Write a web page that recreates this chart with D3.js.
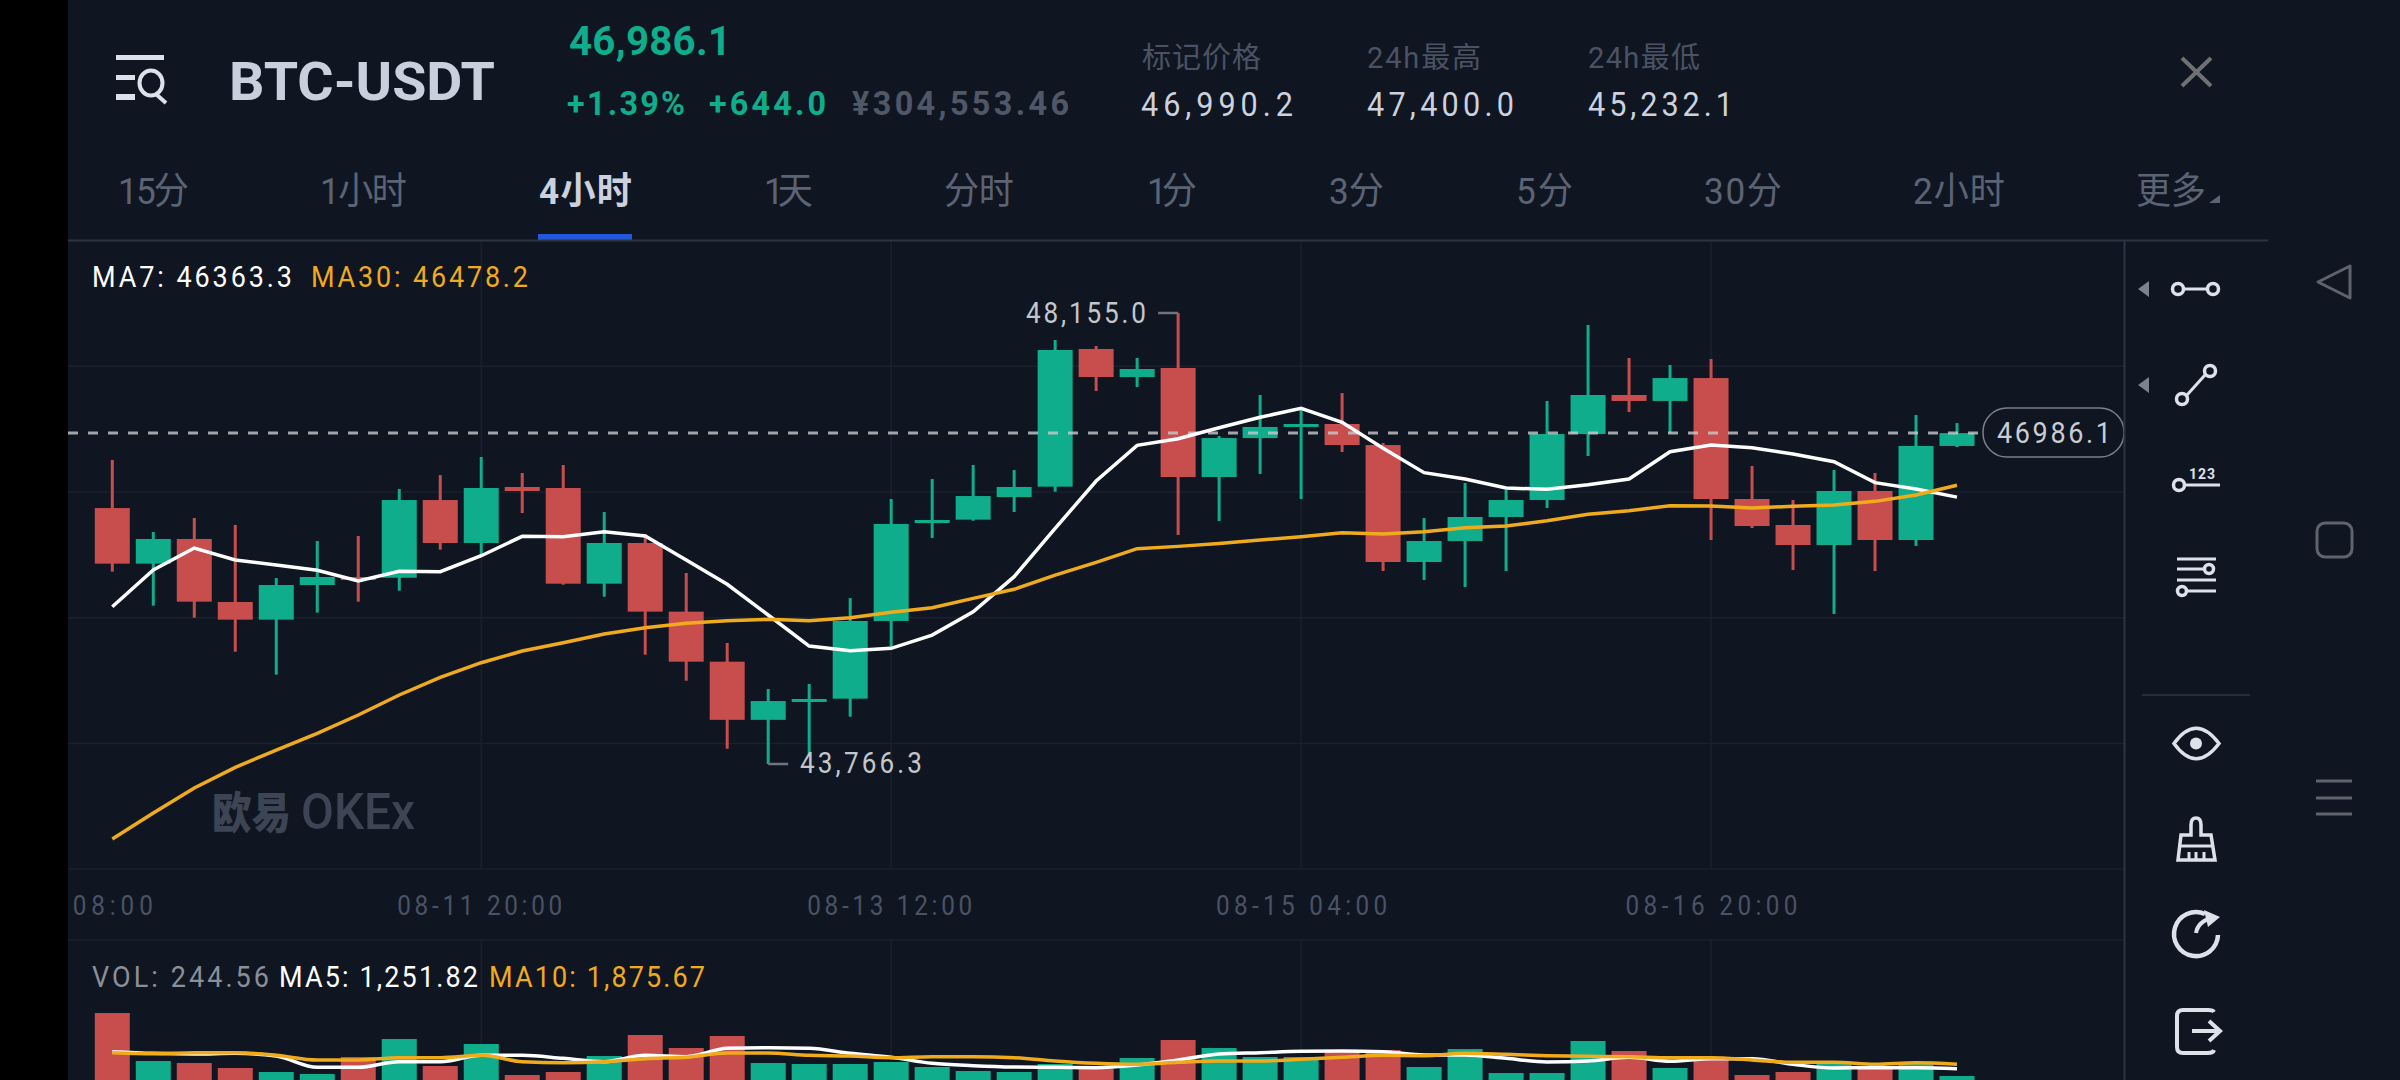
<!DOCTYPE html>
<html><head><meta charset="utf-8">
<style>html,body{margin:0;padding:0;background:#000;overflow:hidden}svg{display:block}</style>
<script src="https://cdnjs.cloudflare.com/ajax/libs/d3/7.8.5/d3.min.js"></script>
</head><body><svg id="c" width="2400" height="1080"></svg>
<script>
// ---- data ----
const opens  = [46257,45716,45956,45343,45171,45508,45586,45579,46335,45917,46462,46452,45521,45917,45249,44762,44196,44379,44402,45158,46111,46144,46364,46465,47805,47532,47620,46559,46938,47046,47075,46870,45732,45936,46170,46335,46977,47357,47299,47522,46345,46092,45897,46423,45946,46861];
const highs  = [46725,46024,46160,46092,45576,45936,45985,46442,46578,46754,46598,46676,46218,46004,45625,44944,44496,44545,45381,46345,46539,46676,46627,47892,47834,47717,48155,46958,47357,47227,47376,46890,46160,46501,46432,47299,48038,47717,47649,47707,46666,46335,46627,46598,47162,47084];
const lows   = [45638,45307,45190,44859,44636,45239,45346,45453,45852,45800,46209,45511,45395,44830,44577,43915,43766.3,43863,44227,44908,45965,46134,46218,46416,47396,47435,45995,46131,46588,46345,46802,45644,45557,45489,45644,46257,46763,47191,46990,45946,46063,45654,45226,45644,45888,46851];
const closes = [45716,45956,45346,45171,45508,45586,45576,46335,45917,46452,46423,45521,45917,45249,44762,44196,44379,44399,45158,46102,46141,46374,46462,47795,47532,47610,46559,46938,47046,47075,46870,45732,45936,46170,46335,46977,47357,47299,47522,46345,46082,45897,46423,45946,46861,46986.1];
const ma7    = [45297,45654,45868,45751,45703,45651,45547,45641,45638,45793,45982,45978,46027,45985,45751,45515,45216,44914,44869,44892,45021,45248,45589,46059,46520,46867,46932,47039,47140,47227,47091,46838,46601,46539,46452,46439,46484,46539,46805,46870,46844,46783,46708,46504,46442,46363.3];
const ma30   = [43037,43290,43533,43734,43902,44065,44243,44438,44610,44752,44866,44947,45031,45093,45135,45161,45174,45161,45190,45242,45287,45378,45466,45605,45729,45862,45884,45913,45946,45978,46017,46004,46027,46066,46082,46134,46196,46231,46280,46277,46257,46274,46286,46322,46384,46478.2];
const volumes= [8901,2306,2031,1344,795,520,2856,5329,1619,4642,382,795,2993,5878,4092,5741,2031,1894,1894,2169,1482,932,795,1894,1207,2718,5191,4092,2856,2856,3543,3817,1482,3955,657,657,5054,3680,1344,2443,382,795,1894,1619,1894,244.56];
const volMa5 = [3588,3359,3268,3359,2993,1436,1436,2214,2214,3085,3085,2672,2214,3085,2901,4046,4138,4046,3359,2810,1985,1665,1482,1436,1390,1756,2443,3268,3451,3634,3680,3588,3130,3130,2672,2169,2306,2810,2260,2627,2627,1848,1344,1390,1390,1251.82];
const volMa10= [3451,3314,3451,3451,3085,2443,2443,2764,2764,3085,2214,2077,2214,2627,2810,3405,3405,3085,2993,2764,2901,2901,2764,2306,1985,1848,2123,2306,2306,2535,2810,3085,3039,3359,3222,3039,2947,2901,2764,2764,2443,2123,2123,1848,2077,1875.67];
const timeIndex  = [0,9,19,29,39];
const timeLabels = ["08:00","08-11 20:00","08-13 12:00","08-15 04:00","08-16 20:00"];
const gridPrices = [47636,46413,45190,43967,42745];
const maxPrice = 48155.0, minPrice = 43766.3, lastPrice = 46986.1;
const tabLabels = ["15分","1小时","4小时","1天","分时","1分","3分","5分","30分","2小时","更多"];
const activeTab = "4小时";

// ---- layout ----
const BG="#0f1622",GRID="#1a212d",SEP="#2e3443",GREEN="#10ad8c",RED="#c84e4e",ORANGE="#f0ab1d",
      DIM="#4b5263",LIGHT="#ccd1dd",TAB="#5c6374";
const NARROW="Roboto,'Noto Sans CJK SC',sans-serif";
const SX=0.9;
const tabSpans=[[119,189],[321,407],[540,632],[765,813],[945,1014],[1148,1197],[1330,1384],[1517,1573],[1705,1782],[1914,2005],[2137,2206]];
const timeWidths=[80,165,165,171,172];
const timeShift=[0,-2,-2,0,0];

const svg=d3.select("#c");
svg.append("rect").attr("x",68).attr("y",0).attr("width",2332).attr("height",1080).attr("fill",BG);

const x=d3.scaleLinear().domain([0,45]).range([112.3,1957]);
const y=d3.scaleLinear().domain([maxPrice,minPrice]).range([313,764]);
const vy=d3.scaleLinear().domain([0,9000]).range([1077.8,1012.3]);
const VOL_BASE=1080;

function txt(s,a,b,base,size,fill,weight,sx){
  const k=sx||SX;
  return svg.append("text").attr("transform",`translate(${a},${base}) scale(${k},1)`)
    .attr("textLength",(b-a)/k)
    .attr("font-size",size).attr("fill",fill).attr("font-weight",weight||400)
    .attr("font-family",NARROW).text(s);
}

// grid
const gridG=svg.append("g");
gridG.selectAll("line.h").data(gridPrices).join("line").attr("class","h")
  .attr("x1",68).attr("x2",2124).attr("y1",d=>y(d)).attr("y2",d=>y(d)).attr("stroke",GRID).attr("stroke-width",1.5);
gridG.append("line").attr("x1",68).attr("x2",2124).attr("y1",940).attr("y2",940).attr("stroke",GRID).attr("stroke-width",1.5);
timeIndex.slice(1).forEach(i=>{
  gridG.append("line").attr("x1",x(i)).attr("x2",x(i)).attr("y1",240).attr("y2",869).attr("stroke",GRID).attr("stroke-width",1.5);
  gridG.append("line").attr("x1",x(i)).attr("x2",x(i)).attr("y1",940).attr("y2",1080).attr("stroke",GRID).attr("stroke-width",1.5);
});

// watermark
svg.append("text").attr("x",212).attr("y",829).attr("textLength",79).attr("lengthAdjust","spacingAndGlyphs")
  .attr("font-size",44).attr("font-weight",900).attr("font-family","'Noto Sans CJK SC',sans-serif").attr("fill","#3d4454").text("欧易");
svg.append("text").attr("x",301).attr("y",829).attr("textLength",114).attr("lengthAdjust","spacingAndGlyphs")
  .attr("font-size",50).attr("font-weight",500).attr("font-family","Roboto,sans-serif").attr("fill","#3d4454").text("OKEx");

// candles
const idx=d3.range(opens.length);
const colorOf=i=>closes[i]>=opens[i]?GREEN:RED;
const BW=35;
svg.append("g").selectAll("line").data(idx).join("line")
  .attr("x1",i=>x(i)).attr("x2",i=>x(i)).attr("y1",i=>y(highs[i])).attr("y2",i=>y(lows[i]))
  .attr("stroke",colorOf).attr("stroke-width",3);
svg.append("g").selectAll("rect").data(idx).join("rect")
  .attr("x",i=>x(i)-BW/2).attr("width",BW)
  .attr("y",i=>y(Math.max(opens[i],closes[i])))
  .attr("height",i=>Math.max(3,y(Math.min(opens[i],closes[i]))-y(Math.max(opens[i],closes[i]))))
  .attr("fill",colorOf);

// last price dashed line
svg.append("line").attr("x1",68).attr("x2",1983).attr("y1",y(lastPrice)).attr("y2",y(lastPrice))
  .attr("stroke","#c8c9cc").attr("stroke-opacity",.8).attr("stroke-width",3).attr("stroke-dasharray","10 10");

// MA lines
const line=d3.line().x((d,i)=>x(i)).y(d=>y(d));
svg.append("path").attr("d",line(ma7)).attr("fill","none").attr("stroke","#fff").attr("stroke-width",3.5);
svg.append("path").attr("d",line(ma30)).attr("fill","none").attr("stroke",ORANGE).attr("stroke-width",3.5);

// annotations
svg.append("path").attr("d",`M${x(26)},${y(maxPrice)}H${x(26)-20}`).attr("stroke","#70747c").attr("stroke-width",2.5).attr("fill","none");
svg.append("path").attr("d",`M${x(16)},${y(minPrice)}H${x(16)+20}`).attr("stroke","#70747c").attr("stroke-width",2.5).attr("fill","none");
txt(d3.format(",.1f")(maxPrice),1026,1146,323,29,"#c4c6cb");
txt(d3.format(",.1f")(minPrice),800,922,773,29,"#c4c6cb");

// last price bubble
svg.append("rect").attr("x",1983).attr("y",408).attr("width",141).attr("height",49).attr("rx",24)
  .attr("fill",BG).attr("stroke","#7a808c").attr("stroke-width",1.5);
txt(String(lastPrice),1997,2111,443,30,"#c9ccd2");

// MA legend
txt("MA7: 46363.3",92,292,287,30,"#fff");
txt("MA30: 46478.2",311,528,287,30,ORANGE);

// time axis
const axis=svg.append("g").attr("transform","translate(0,915)")
  .call(d3.axisBottom(x).tickValues(timeIndex).tickSize(0).tickPadding(0).tickFormat((d,i)=>timeLabels[i]));
axis.select(".domain").remove();
axis.selectAll("text").attr("y",0).attr("dy",0).attr("font-size",27).attr("fill",DIM)
  .attr("font-family",NARROW).attr("textLength",(d,i)=>timeWidths[i]/SX)
  .attr("transform",(d,i)=>`translate(${timeShift[i]},0) scale(${SX},1)`);

// volume
svg.append("g").selectAll("rect").data(idx).join("rect")
  .attr("x",i=>x(i)-BW/2).attr("width",BW)
  .attr("y",i=>vy(volumes[i])).attr("height",i=>VOL_BASE-vy(volumes[i]))
  .attr("fill",colorOf);
const vline=d3.line().x((d,i)=>x(i)).y(d=>vy(d)).curve(d3.curveMonotoneX);
svg.append("path").attr("d",vline(volMa5)).attr("fill","none").attr("stroke","#fff").attr("stroke-width",3.5);
svg.append("path").attr("d",vline(volMa10)).attr("fill","none").attr("stroke",ORANGE).attr("stroke-width",3.5);
txt("VOL: 244.56",92,269,987,30,"#8b8f98");
txt("MA5: 1,251.82",279,478,987,30,"#fff");
txt("MA10: 1,875.67",489,705,987,30,ORANGE);

// header
svg.append("text").attr("x",229).attr("y",100).attr("textLength",266).attr("lengthAdjust","spacingAndGlyphs")
  .attr("font-size",53).attr("font-weight",700).attr("font-family","Roboto,sans-serif").attr("fill","#c9cfdd").text("BTC-USDT");
txt("46,986.1",569,731,55,41,GREEN,700,0.98);
txt("+1.39%",567,685,115,33,GREEN,700,0.98);
txt("+644.0",709,826,115,33,GREEN,700,0.98);
txt("¥304,553.46",852,1069,115,33,"#505767",700,0.98);
txt("标记价格",1142,1261,68,29,DIM,400,1);
txt("46,990.2",1141,1293,116,34,LIGHT);
txt("24h最高",1367,1481,68,29,DIM,400,1);
txt("47,400.0",1367,1514,116,34,LIGHT);
txt("24h最低",1588,1700,68,29,DIM,400,1);
txt("45,232.1",1588,1733,116,34,LIGHT);

// tabs
tabLabels.forEach((t,i)=>txt(t,tabSpans[i][0]-1,tabSpans[i][1],204,37,t===activeTab?LIGHT:TAB,t===activeTab?700:400,0.95));
svg.append("path").attr("d","M2209,203H2220V195Z").attr("fill",TAB);
svg.append("rect").attr("x",538).attr("y",234).attr("width",94).attr("height",6).attr("fill","#2358d8");
svg.append("line").attr("x1",68).attr("x2",2268).attr("y1",240.5).attr("y2",240.5).attr("stroke",SEP).attr("stroke-width",2);
svg.append("line").attr("x1",2124.5).attr("x2",2124.5).attr("y1",240).attr("y2",1080).attr("stroke",SEP).attr("stroke-width",2);
svg.append("line").attr("x1",2142).attr("x2",2250).attr("y1",695).attr("y2",695).attr("stroke",SEP).attr("stroke-width",1.5);

// close icon
svg.append("path").attr("d","M2182,58L2211,86M2211,58L2182,86").attr("stroke","#6f7072").attr("stroke-width",4).attr("fill","none");

// menu icon
const ICON="#dde1ea";
const m=svg.append("g").attr("fill",ICON);
m.append("rect").attr("x",116).attr("y",55).attr("width",48).attr("height",5);
m.append("rect").attr("x",116).attr("y",75).attr("width",19).attr("height",5);
m.append("rect").attr("x",116).attr("y",94).attr("width",19).attr("height",6);
svg.append("ellipse").attr("cx",151).attr("cy",83).attr("rx",11.5).attr("ry",12.5).attr("fill","none").attr("stroke",ICON).attr("stroke-width",4);
svg.append("path").attr("d","M157,95L166,103").attr("stroke",ICON).attr("stroke-width",4);

// side tools
const tool=svg.append("g").attr("fill","none").attr("stroke",ICON).attr("stroke-width",3.5);
const ring=(cx,cy,r)=>tool.append("circle").attr("cx",cx).attr("cy",cy).attr("r",r||5.5);
svg.append("path").attr("d","M2149,281V297L2138,289Z").attr("fill","#7c8290");
svg.append("path").attr("d","M2149,377V393L2138,385Z").attr("fill","#7c8290");
tool.append("path").attr("d","M2184,289H2207").attr("stroke-width",3); ring(2178,289); ring(2213,289);
tool.append("path").attr("d","M2187,395L2205,375").attr("stroke-width",3); ring(2182,399); ring(2210,371);
tool.append("path").attr("d","M2185,485H2220").attr("stroke-width",3); ring(2179,485);
svg.append("text").attr("x",2189).attr("y",479).attr("textLength",26).attr("font-size",14).attr("font-weight",700)
  .attr("font-family","Roboto,sans-serif").attr("fill",ICON).text("123");
tool.append("path").attr("d","M2177,559H2216M2177,569H2204M2177,580H2216M2188,591H2216").attr("stroke-width",3);
ring(2209,569,4.5); ring(2182,591,4.5);
tool.append("path").attr("d","M2174,743.5Q2196,713 2219,743.5Q2196,774 2174,743.5Z");
svg.append("circle").attr("cx",2196).attr("cy",743.5).attr("r",6).attr("fill",ICON);
tool.append("path").attr("d","M2191,835V825Q2191,818 2196,818Q2201,818 2201,825V835H2211L2215,860H2178L2181,835Z").attr("stroke-width",3.5);
tool.append("path").attr("d","M2179,846H2214M2189,852V860M2196,852V860M2204,852V860").attr("stroke-width",3);
tool.append("path").attr("d","M2205,914A22,22 0 1 0 2218,935").attr("stroke-width",4.5);
tool.append("path").attr("d","M2196,933Q2198,921 2214,917").attr("stroke-width",4);
svg.append("path").attr("d","M2204,910L2220,917L2208,927Z").attr("fill",ICON);
tool.append("path").attr("d","M2214,1012Q2213,1010 2208,1010H2183Q2177,1010 2177,1016V1047Q2177,1053 2183,1053H2208Q2213,1053 2214,1050").attr("stroke-width",4);
tool.append("path").attr("d","M2192,1031H2218M2209,1021L2220,1031L2209,1041").attr("stroke-width",4);

// nav buttons
const nav=svg.append("g").attr("fill","none").attr("stroke","#5f636b").attr("stroke-width",3);
nav.append("path").attr("d","M2318,282L2350,266V298Z").attr("stroke-linejoin","round");
nav.append("rect").attr("x",2317).attr("y",523).attr("width",35).attr("height",34).attr("rx",8);
nav.append("path").attr("d","M2316,781H2352M2316,798H2352M2316,814H2352");
</script></body></html>
